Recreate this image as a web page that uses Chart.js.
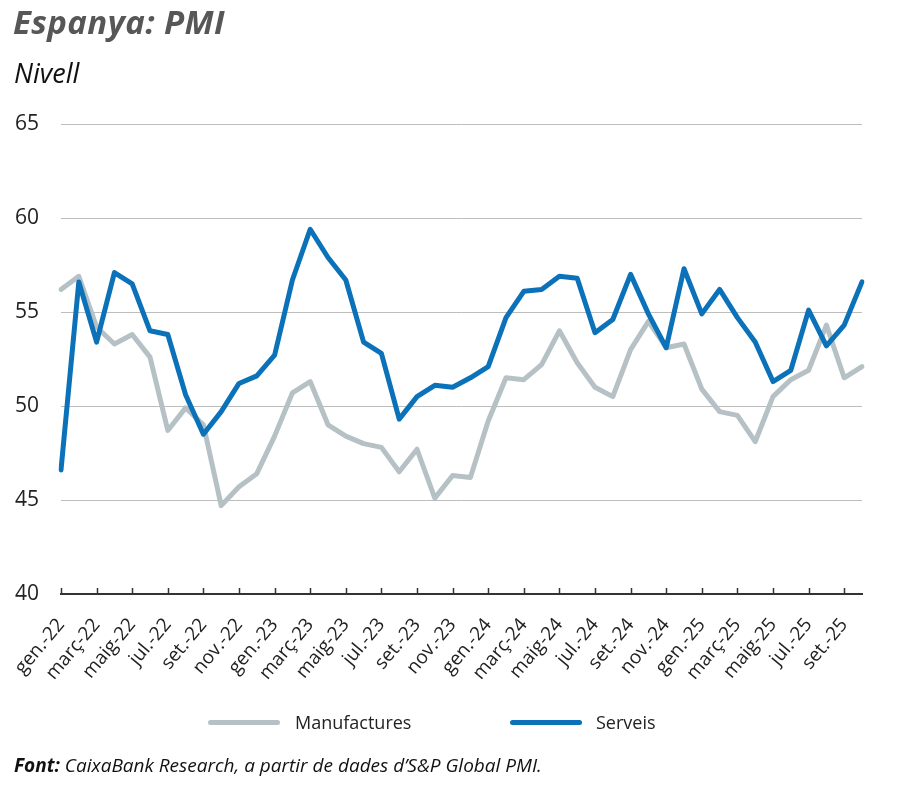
<!DOCTYPE html>
<html>
<head>
<meta charset="utf-8">
<script src="https://cdn.jsdelivr.net/npm/chart.js@4.4.1/dist/chart.umd.min.js"></script>
<style>
  body { margin: 0; background: #fff; font-family: "Open Sans", sans-serif; }
  #wrap { position: relative; width: 900px; height: 796px; overflow: hidden; }
  #wrap canvas { position: absolute; left: 0; top: 0; }
  .txt { position: absolute; line-height: 1; white-space: nowrap; }
  #title { left: 13px; top: 5px; font-size: 33px; font-weight: 700; font-style: italic; color: #575757; letter-spacing: 0.4px; }
  #subtitle { left: 14px; top: 59px; font-size: 27px; font-style: italic; color: #111; }
  #source { left: 14px; top: 756px; font-size: 19px; font-style: italic; color: #111; }
  .leg-line { position: absolute; height: 5px; border-radius: 3px; }
  .leg-txt { position: absolute; top: 713px; font-size: 18px; line-height: 1; color: #222; }
</style>
</head>
<body>
<div id="wrap">
  <canvas id="pmiChart" width="900" height="796"></canvas>
  <div class="txt" id="title">Espanya: PMI</div>
  <div class="txt" id="subtitle">Nivell</div>
  <div class="leg-line" style="left:208px; top:720px; width:72px; background:#b5c1c4;"></div>
  <div class="leg-txt" style="left:295px;">Manufactures</div>
  <div class="leg-line" style="left:510px; top:720px; width:72px; background:#0b72b9;"></div>
  <div class="leg-txt" style="left:596px;">Serveis</div>
  <div class="txt" id="source"><b>Font:</b> CaixaBank Research, a partir de dades d’S&amp;P Global PMI.</div>
</div>
<script>
// mesos gen-22 .. oct-25
const months = ['gen.', 'febr.', 'març', 'abr.', 'maig', 'juny', 'jul.', 'ag.', 'set.', 'oct.', 'nov.', 'des.'];
const years = ['22', '23', '24', '25'];
const labels = [];
years.forEach(y => months.forEach(m => labels.push(m + '-' + y)));
labels.splice(46);

const manufactures = [
    56.2, 56.9, 54.2, 53.3, 53.8, 52.6, 48.7, 49.9, 49.0, 44.7, 45.7, 46.4,
    48.4, 50.7, 51.3, 49.0, 48.4, 48.0, 47.8, 46.5, 47.7, 45.1, 46.3, 46.2,
    49.2, 51.5, 51.4, 52.2, 54.0, 52.3, 51.0, 50.5, 53.0, 54.5, 53.1, 53.3,
    50.9, 49.7, 49.5, 48.1, 50.5, 51.4, 51.9, 54.3, 51.5, 52.1
];
const serveis = [
    46.6, 56.6, 53.4, 57.1, 56.5, 54.0, 53.8, 50.6, 48.5, 49.7, 51.2, 51.6,
    52.7, 56.7, 59.4, 57.9, 56.7, 53.4, 52.8, 49.3, 50.5, 51.1, 51.0, 51.5,
    52.1, 54.7, 56.1, 56.2, 56.9, 56.8, 53.9, 54.6, 57.0, 54.9, 53.1, 57.3,
    54.9, 56.2, 54.7, 53.4, 51.3, 51.9, 55.1, 53.2, 54.3, 56.6
];
const yTicks = [40, 45, 50, 55, 60, 65];

// marques de l'eix x cap amunt
const innerTicks = {
    id: 'innerTicks',
    afterDraw(chart) {
        const x = chart.scales.x;
        const ctx = chart.ctx;
        ctx.save();
        ctx.strokeStyle = '#333';
        ctx.lineWidth = 1.5;
        for (let i = 0; i < labels.length; i += 2) {
            const px = Math.round(x.getPixelForValue(i)) + 0.5;
            ctx.beginPath();
            ctx.moveTo(px, x.top);
            ctx.lineTo(px, x.top - 6);
            ctx.stroke();
        }
        ctx.restore();
    }
};

const ctx = document.getElementById('pmiChart').getContext('2d');
new Chart(ctx, {
    type: 'line',
    data: {
        labels: labels,
        datasets: [
            {
                label: 'Manufactures',
                data: manufactures,
                borderColor: '#b5c1c4',
                borderWidth: 5,
                pointRadius: 0,
                tension: 0,
                borderJoinStyle: 'round',
                borderCapStyle: 'round',
                order: 2
            },
            {
                label: 'Serveis',
                data: serveis,
                borderColor: '#0b72b9',
                borderWidth: 5,
                pointRadius: 0,
                tension: 0,
                borderJoinStyle: 'round',
                borderCapStyle: 'round',
                order: 1
            }
        ]
    },
    options: {
        responsive: false,
        animation: false,
        layout: { padding: { left: 0, top: 124, right: 38, bottom: 0 } },
        plugins: { legend: { display: false }, tooltip: { enabled: false } },
        scales: {
            x: {
                offset: false,
                afterFit(s) { s.height = 202; s.paddingLeft = 0; s.paddingRight = 0; },
                grid: { display: true, drawOnChartArea: false, drawTicks: false },
                border: { display: true, color: '#333', width: 2 },
                ticks: {
                    autoSkip: false,
                    minRotation: 50,
                    maxRotation: 50,
                    padding: 20,
                    color: '#222',
                    font: { family: 'Open Sans', size: 19 },
                    callback: (v, i) => (i % 2 === 0 ? labels[i] : null)
                }
            },
            y: {
                min: 40,
                max: 65,
                afterFit(s) { s.width = 61; },
                afterBuildTicks(s) { s.ticks = yTicks.map(v => ({ value: v })); },
                grid: { color: '#bdbdbd', lineWidth: 1, drawTicks: false },
                border: { display: false },
                ticks: {
                    padding: 22,
                    color: '#222',
                    font: { family: 'Open Sans', size: 21 }
                }
            }
        }
    },
    plugins: [innerTicks]
});
</script>
</body>
</html>
